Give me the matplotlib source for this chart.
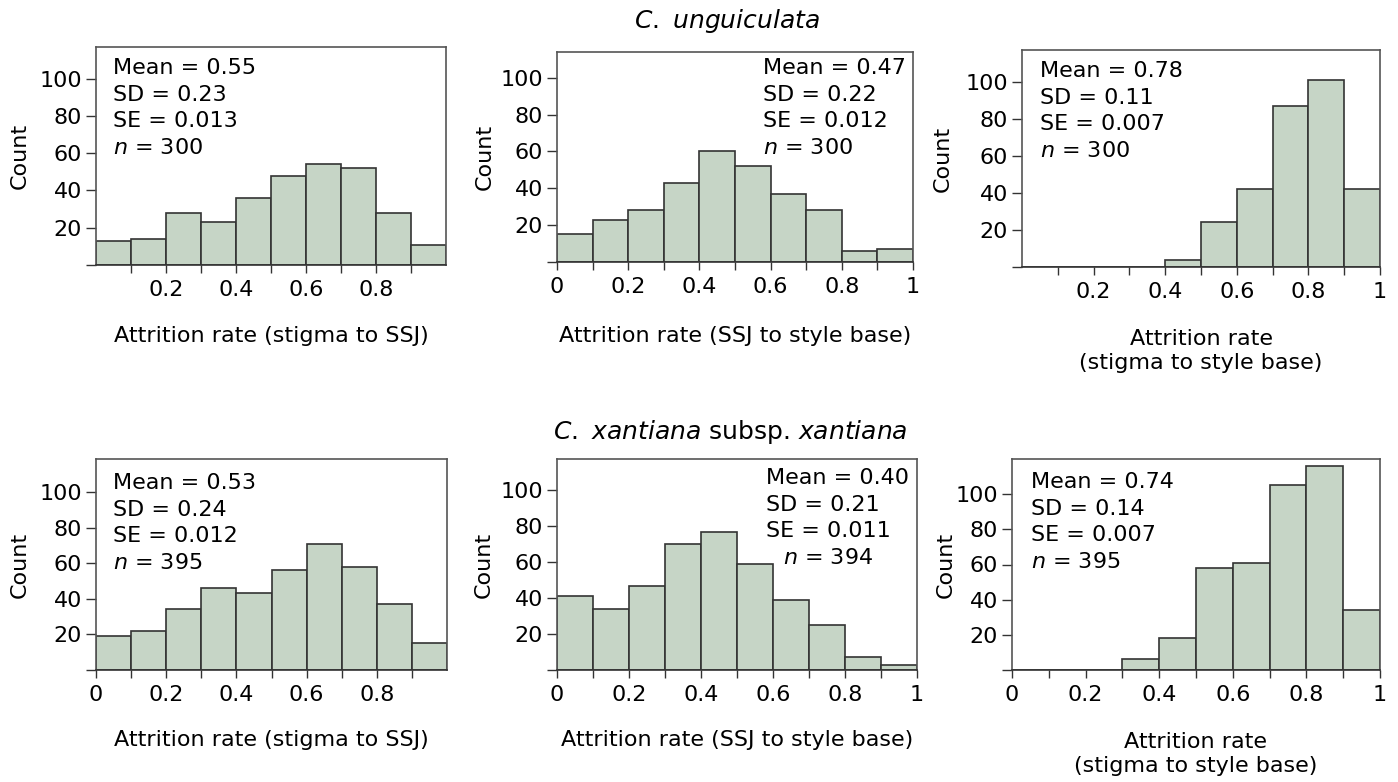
import matplotlib
matplotlib.use("Agg")
import matplotlib.pyplot as plt
import numpy as np

plt.rcParams['font.family'] = ['DejaVu Sans']
plt.rcParams['mathtext.fontset'] = 'dejavusans'

W, H = 1398, 782

# ---- data ----
bin_left = [0.0, 0.1, 0.2, 0.3, 0.4, 0.5, 0.6, 0.7, 0.8, 0.9]
bin_width = 0.1

counts_cu_stigma_ssj = [13, 14, 28, 23, 36, 48, 54, 52, 28, 11]
counts_cu_ssj_base = [15, 23, 28, 43, 60, 52, 37, 28, 6, 7]
counts_cu_stigma_base = [0, 0, 0, 0, 4, 24, 42, 87, 101, 42]
counts_cx_stigma_ssj = [19, 22, 34, 46, 43, 56, 71, 58, 37, 15]
counts_cx_ssj_base = [41, 34, 47, 70, 77, 59, 39, 25, 7, 3]
counts_cx_stigma_base = [0, 0, 0, 6, 18, 58, 61, 105, 116, 34]

stats_cu_stigma_ssj = ["Mean = 0.55", "SD = 0.23", "SE = 0.013", "$\\mathit{n}$ = 300"]
stats_cu_ssj_base = ["Mean = 0.47", "SD = 0.22", "SE = 0.012", "$\\mathit{n}$ = 300"]
stats_cu_stigma_base = ["Mean = 0.78", "SD = 0.11", "SE = 0.007", "$\\mathit{n}$ = 300"]
stats_cx_stigma_ssj = ["Mean = 0.53", "SD = 0.24", "SE = 0.012", "$\\mathit{n}$ = 395"]
stats_cx_ssj_base = ["Mean = 0.40", "SD = 0.21", "SE = 0.011", "$\\mathit{n}$ = 394"]
stats_cx_stigma_base = ["Mean = 0.74", "SD = 0.14", "SE = 0.007", "$\\mathit{n}$ = 395"]

xlabels = ["Attrition rate (stigma to SSJ)",
           "Attrition rate (SSJ to style base)",
           "Attrition rate\n(stigma to style base)"]

title_row1 = "$\\it{C.\\ unguiculata}$"
title_row2 = "$\\it{C.\\ xantiana}$ subsp. $\\it{xantiana}$"

yticks = [0, 20, 40, 60, 80, 100]
ytick_labels = ["", "20", "40", "60", "80", "100"]

xticks_p1 = [0.1, 0.2, 0.3, 0.4, 0.5, 0.6, 0.7, 0.8, 0.9]
xlabels_p1 = ["", "0.2", "", "0.4", "", "0.6", "", "0.8", ""]
xticks_p2 = [0.0, 0.1, 0.2, 0.3, 0.4, 0.5, 0.6, 0.7, 0.8, 0.9, 1.0]
xlabels_p2 = ["0", "", "0.2", "", "0.4", "", "0.6", "", "0.8", "", "1"]
xticks_p3 = [0.1, 0.2, 0.3, 0.4, 0.5, 0.6, 0.7, 0.8, 0.9, 1.0]
xlabels_p3 = ["", "0.2", "", "0.4", "", "0.6", "", "0.8", "", "1"]
xticks_p4 = [0.0, 0.1, 0.2, 0.3, 0.4, 0.5, 0.6, 0.7, 0.8, 0.9]
xlabels_p4 = ["0", "", "0.2", "", "0.4", "", "0.6", "", "0.8", ""]

# ---- layout (pixel boxes: left, top, right, bottom) ----
panels = [
    dict(box=(96, 47, 446, 265), counts=counts_cu_stigma_ssj, ytop=117,
         xt=xticks_p1, xl=xlabels_p1, stats=stats_cu_stigma_ssj,
         sx=[113, 113, 113, 113], sy=68, xlab=xlabels[0], xly=336, ylx=20),
    dict(box=(557, 52, 913, 262), counts=counts_cu_ssj_base, ytop=114,
         xt=xticks_p2, xl=xlabels_p2, stats=stats_cu_ssj_base,
         sx=[763, 763, 763, 763], sy=68, xlab=xlabels[1], xly=336, ylx=485),
    dict(box=(1022, 50, 1380, 267), counts=counts_cu_stigma_base, ytop=117,
         xt=xticks_p3, xl=xlabels_p3, stats=stats_cu_stigma_base,
         sx=[1040, 1040, 1040, 1040], sy=71, xlab=xlabels[2], xly=351, ylx=943),
    dict(box=(96, 459, 447, 670), counts=counts_cx_stigma_ssj, ytop=118.5,
         xt=xticks_p4, xl=xlabels_p4, stats=stats_cx_stigma_ssj,
         sx=[113, 113, 113, 113], sy=483, xlab=xlabels[0], xly=740, ylx=20),
    dict(box=(557, 459, 917, 670), counts=counts_cx_ssj_base, ytop=117.5,
         xt=xticks_p2, xl=xlabels_p2, stats=stats_cx_ssj_base,
         sx=[766, 766, 766, 783], sy=478, xlab=xlabels[1], xly=740, ylx=484),
    dict(box=(1012, 459, 1380, 670), counts=counts_cx_stigma_base, ytop=120,
         xt=xticks_p2, xl=xlabels_p2, stats=stats_cx_stigma_base,
         sx=[1031, 1031, 1031, 1031], sy=482, xlab=xlabels[2], xly=754, ylx=946),
]

FS = 16
TFS = 18
bar_color = "#c6d5c6"
edge_color = "#333333"
spine_color = "#555555"

fig = plt.figure(figsize=(W / 100, H / 100), dpi=100)

for p in panels:
    l, t, r, b = p["box"]
    ax = fig.add_axes([l / W, 1 - b / H, (r - l) / W, (b - t) / H])
    ax.bar(bin_left, p["counts"], width=bin_width, align="edge",
           color=bar_color, edgecolor=edge_color, linewidth=1.2, zorder=2)
    ax.set_xlim(0, 1)
    ax.set_ylim(0, p["ytop"])
    ax.set_yticks(yticks)
    ax.set_yticklabels(ytick_labels)
    ax.set_xticks(p["xt"])
    ax.set_xticklabels(p["xl"])
    ax.tick_params(axis="both", direction="out", length=7, width=1,
                   color="#333333", labelsize=FS, pad=3)
    ax.tick_params(axis="x", length=6, pad=5)
    for s in ["top", "right", "left"]:
        ax.spines[s].set_color(spine_color)
        ax.spines[s].set_linewidth(1.2)
    ax.spines["bottom"].set_color("#333333")
    ax.spines["bottom"].set_linewidth(1.2)
    for i, line in enumerate(p["stats"]):
        fig.text(p["sx"][i] / W, 1 - (p["sy"] + i * 26.7) / H, line,
                 fontsize=FS, ha="left", va="center")
    cx = (l + r) / 2
    fig.text(cx / W, 1 - p["xly"] / H, p["xlab"], fontsize=FS,
             ha="center", va="center", linespacing=1.25)
    fig.text(p["ylx"] / W, 1 - ((t + b) / 2) / H, "Count", fontsize=FS,
             rotation=90, ha="center", va="center")

fig.text(727 / W, 1 - 21 / H, title_row1, fontsize=TFS, ha="center", va="center")
fig.text(730 / W, 1 - 432 / H, title_row2, fontsize=TFS, ha="center", va="center")

fig.savefig("out.png", dpi=100)
